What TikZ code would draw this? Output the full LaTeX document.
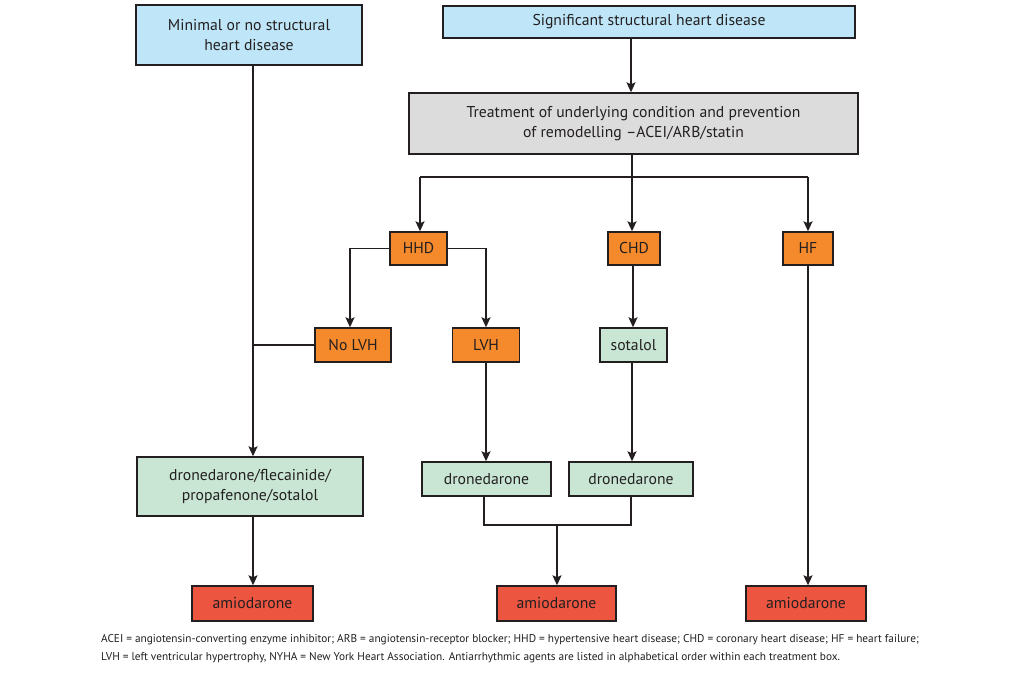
\documentclass[tikz,border=0pt]{standalone}
\usepackage{fontspec}
\setmainfont{PT Sans}
\usetikzlibrary{arrows.meta}
\definecolor{cblue}{RGB}{190,230,248}
\definecolor{cgray}{RGB}{220,220,221}
\definecolor{corange}{RGB}{245,138,44}
\definecolor{cgreen}{RGB}{200,230,211}
\definecolor{cred}{RGB}{236,85,64}
\definecolor{cline}{RGB}{35,31,32}
\tikzset{
  box/.style={draw=cline, line width=1.4pt, inner sep=0pt, align=center, font=\fontsize{15.7}{20}\selectfont, text=cline},
  bluebox/.style={box, fill=cblue},
  graybox/.style={box, fill=cgray},
  orbox/.style={box, fill=corange},
  grbox/.style={box, fill=cgreen},
  redbox/.style={box, fill=cred},
  conn/.style={draw=cline, line width=1.5pt},
  arr/.style={conn, -{Stealth[length=10pt,width=9pt,inset=2pt]}}
}
\begin{document}
\begin{tikzpicture}[x=1pt,y=-1pt]
\useasboundingbox[fill=white] (0,0) rectangle (1023,674);
% top row
\node[bluebox, minimum width=226pt, minimum height=60pt] (min) at (249,35) {Minimal or no structural\\heart disease};
\node[bluebox, minimum width=412pt, minimum height=32pt] (sig) at (649,22) {Significant structural heart disease};
\node[graybox, minimum width=449pt, minimum height=61pt] (treat) at (633.5,123.5) {Treatment of underlying condition and prevention\\of remodelling --ACEI/ARB/statin};
% orange row
\node[orbox, minimum width=57pt, minimum height=33pt] (hhd) at (418.5,248.5) {HHD};
\node[orbox, minimum width=52pt, minimum height=33pt] (chd) at (634,248.5) {CHD};
\node[orbox, minimum width=50pt, minimum height=33pt] (hf) at (808,248.5) {HF};
% second row
\node[orbox, minimum width=76pt, minimum height=34pt] (nolvh) at (353,345) {No LVH};
\node[orbox, minimum width=67pt, minimum height=34pt] (lvh) at (486,345) {LVH};
\node[grbox, minimum width=67pt, minimum height=34pt] (sot) at (633.5,345) {sotalol};
% drugs row
\node[grbox, minimum width=226pt, minimum height=59pt] (g1) at (250,486.5) {dronedarone/flecainide/\\propafenone/sotalol};
\node[grbox, minimum width=129pt, minimum height=34pt] (d1) at (486.5,479) {dronedarone};
\node[grbox, minimum width=124pt, minimum height=34pt] (d2) at (631,479) {dronedarone};
% amiodarone row
\node[redbox, minimum width=121pt, minimum height=35pt] (a1) at (252.5,603.5) {amiodarone};
\node[redbox, minimum width=119pt, minimum height=35pt] (a2) at (556.5,603.5) {amiodarone};
\node[redbox, minimum width=120pt, minimum height=35pt] (a3) at (806,603.5) {amiodarone};
% coordinates
\coordinate (bl) at (420,177);
\coordinate (br) at (808,177);
\coordinate (bm) at (632,177);
\coordinate (join) at (557,525);
% connectors
\draw[arr] (sig.south -| 631,0) -- (treat.north -| 631,0);
\draw[conn] (treat.south -| bm) -- (bm);
\draw[conn] (bl) -- (br);
\draw[arr] (bl) -- (hhd.north -| bl);
\draw[arr] (bm) -- (chd.north -| bm);
\draw[arr] (br) -- (hf.north -| br);
\draw[arr] (hhd.west) -| (nolvh.north -| 350,0);
\draw[arr] (hhd.east) -| (lvh.north);
\draw[arr] (chd.south -| 633,0) -- (sot.north -| 633,0);
\draw[arr] (min.south -| 253,0) -- (g1.north -| 253,0);
\draw[conn] (nolvh.west) -- (nolvh.west -| 253,0);
\draw[arr] (lvh.south) -- (d1.north -| lvh.south);
\draw[arr] (sot.south -| 632,0) -- (d2.north -| 632,0);
\draw[conn] (d1.south -| 484,0) |- (join) -| (d2.south -| 631,0);
\draw[arr] (join) -- (a2.north -| join);
\draw[arr] (g1.south -| 253,0) -- (a1.north -| 253,0);
\draw[arr] (hf.south) -- (a3.north -| hf.south);
% footnote
\node[anchor=north west, inner sep=0pt, align=left, font=\fontsize{11.3}{18}\selectfont, text=cline] (fn) at (101,634) {ACEI = angiotensin-converting enzyme inhibitor; ARB = angiotensin-receptor blocker; HHD = hypertensive heart disease; CHD = coronary heart disease; HF = heart failure;\\LVH = left ventricular hypertrophy, NYHA = New York Heart Association. Antiarrhythmic agents are listed in alphabetical order within each treatment box.};
\end{tikzpicture}
\end{document}
